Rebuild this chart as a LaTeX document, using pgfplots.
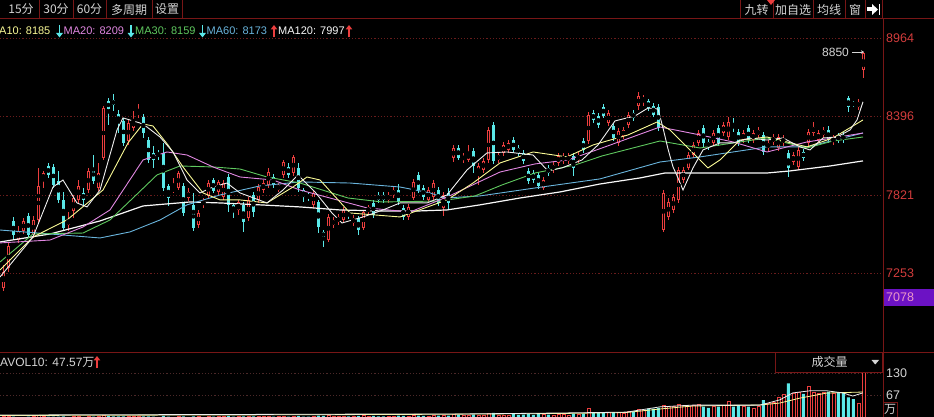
\documentclass[border=0pt]{standalone}
\usepackage{pgfplots}
\pgfplotsset{compat=1.18}
\usepackage{pgfplotstable}
\usepackage{fontspec}
\setmainfont{Liberation Sans}
\newfontfamily\cjk{Noto Sans CJK SC}
\usetikzlibrary{arrows.meta}

\definecolor{cup}{RGB}{235,62,62}
\definecolor{cdn}{RGB}{90,232,232}
\definecolor{ma5}{RGB}{238,238,238}
\definecolor{ma10}{RGB}{250,250,150}
\definecolor{ma20}{RGB}{225,135,225}
\definecolor{ma30}{RGB}{95,200,95}
\definecolor{ma60}{RGB}{105,180,220}
\definecolor{ma120}{RGB}{248,248,248}
\definecolor{lbl}{RGB}{210,60,60}
\definecolor{frame}{RGB}{120,22,22}
\definecolor{gridred}{RGB}{105,28,28}
\definecolor{volgrid}{RGB}{75,40,40}
\definecolor{txt}{RGB}{212,212,212}
\definecolor{purp}{RGB}{108,18,196}
\definecolor{pinktxt}{RGB}{235,150,200}

\newcommand{\fs}[1]{\fontsize{#1}{#1}\selectfont}

% rising candles (red, hollow): index, open, high, low, close, volume (10k)
\pgfplotstableread{
i o h l c v
0 7144 7311 7122 7260 6
1 7290 7479 7260 7450 7
3 7493 7595 7472 7559 4
4 7559 7654 7537 7632 4
6 7530 7668 7508 7639 5
7 7639 8018 7610 7887 9
8 7930 7996 7872 7981 6
13 7603 7697 7559 7639 4
14 7705 7821 7654 7799 5
15 7785 7930 7763 7887 5
17 7857 8018 7836 7996 5
19 7872 8054 7850 7981 5
20 8090 8469 8076 8454 10
25 8214 8367 8185 8345 5
26 8309 8433 8287 8367 5
27 8403 8484 8382 8433 5
34 7850 7945 7836 7872 4
35 7872 7996 7857 7981 5
37 7799 7872 7777 7843 4
39 7603 7712 7581 7690 5
40 7749 7799 7727 7777 4
41 7814 7930 7799 7908 5
43 7843 7930 7821 7916 5
44 7806 7930 7785 7908 5
47 7712 7785 7675 7770 5
49 7654 7806 7632 7785 6
51 7785 7901 7763 7879 6
52 7857 7930 7836 7908 5
53 7894 8018 7872 7988 6
55 7857 7908 7843 7894 5
56 7967 8076 7945 8061 6
58 7981 8112 7959 8098 7
62 7749 7857 7727 7836 6
65 7493 7683 7479 7661 9
66 7603 7661 7581 7639 6
67 7624 7683 7603 7661 6
68 7639 7734 7617 7712 7
70 7617 7675 7595 7654 6
72 7581 7712 7566 7697 8
73 7697 7749 7675 7734 7
77 7785 7843 7763 7821 6
78 7821 7879 7799 7857 7
81 7661 7756 7639 7734 7
82 7799 7938 7785 7916 9
85 7785 7879 7763 7857 7
86 7806 7930 7785 7908 8
88 7727 7843 7668 7821 9
90 8090 8185 8061 8163 12
92 8076 8127 8054 8105 9
93 8076 8185 8061 8127 9
95 7967 8054 7894 8032 10
96 8003 8090 7981 8069 10
97 8076 8316 8054 8294 16
99 8076 8134 8054 8112 10
100 8127 8207 8105 8185 10
101 8149 8221 8127 8200 10
108 7872 7952 7857 7930 11
110 8003 8061 7981 8039 10
111 8054 8127 8032 8105 11
112 8069 8127 8047 8105 11
113 8069 8127 8047 8105 10
115 8076 8134 8054 8112 12
117 8214 8425 8192 8403 30
121 8345 8440 8323 8418 18
123 8200 8309 8178 8287 17
124 8250 8316 8229 8294 16
125 8331 8425 8309 8403 20
127 8469 8571 8440 8542 25
128 8505 8549 8469 8527 22
132 7566 7857 7552 7836 38
133 7661 7799 7639 7770 36
134 7712 7828 7690 7806 36
135 7785 8025 7763 8003 40
136 7930 8025 7908 8003 38
137 8018 8134 8003 8112 36
138 8112 8207 8090 8185 38
139 8200 8294 8178 8272 40
142 8200 8294 8178 8272 36
144 8272 8352 8250 8331 38
145 8243 8389 8221 8352 50
148 8221 8294 8200 8272 34
150 8221 8294 8200 8272 30
151 8258 8316 8236 8294 34
153 8163 8221 8141 8200 42
154 8207 8265 8185 8243 45
155 8163 8265 8141 8243 60
156 8200 8258 8178 8236 68
158 8061 8134 8039 8112 72
159 8025 8171 8003 8149 75
161 8200 8302 8178 8280 93
162 8272 8352 8250 8316 75
163 8221 8294 8200 8272 72
164 8258 8316 8236 8294 74
166 8207 8258 8185 8236 72
171 8462 8520 8440 8498 42
172 8731 8862 8673 8855 132
}\upT

% falling candles (cyan, filled)
\pgfplotstableread{
i o h l c v
2 7632 7661 7493 7530 5
5 7668 7690 7508 7530 5
9 8032 8054 7945 7967 5
10 8025 8047 7872 7894 5
11 7923 7996 7763 7785 5
12 7785 7843 7566 7581 6
16 7836 7872 7749 7785 4
18 8018 8112 7901 7923 5
21 8505 8527 8331 8447 7
22 8513 8556 8433 8476 6
23 8411 8440 8272 8345 6
24 8360 8382 8178 8200 6
28 8389 8411 8236 8272 6
29 8221 8243 8054 8076 6
30 8127 8178 8018 8076 5
31 8127 8149 8076 8105 4
32 8127 8200 7850 7872 7
33 7887 7901 7741 7799 5
36 7887 7908 7668 7690 6
38 7749 7836 7559 7581 6
42 7930 7945 7836 7850 5
45 7952 7974 7697 7749 7
46 7749 7763 7654 7697 5
48 7749 7770 7552 7624 6
50 7821 7843 7661 7697 6
54 7952 7974 7872 7894 5
57 8025 8054 7945 7967 5
59 8018 8054 7843 7872 7
60 7857 7872 7770 7806 5
61 7821 7843 7777 7799 5
63 7770 7785 7544 7588 8
64 7552 7566 7442 7515 7
69 7697 7712 7646 7668 6
71 7654 7668 7530 7566 7
74 7763 7785 7654 7675 7
75 7821 7843 7763 7785 6
76 7821 7843 7763 7785 6
79 7857 7901 7749 7770 8
80 7727 7749 7639 7661 7
83 7967 7988 7836 7857 8
84 7872 7894 7785 7806 7
87 7857 7879 7741 7763 8
89 7836 7872 7712 7763 8
91 8163 8185 8076 8090 10
94 8141 8163 7981 8032 11
98 8331 8352 8047 8069 16
102 8221 8243 8127 8149 12
103 8163 8185 8105 8127 10
104 8127 8149 8047 8069 11
105 7996 8018 7901 7923 12
106 7981 8003 7908 7930 10
107 7967 7988 7865 7887 12
109 8018 8039 7959 7981 11
114 8105 8127 7959 8018 14
116 8214 8236 8127 8149 14
118 8418 8440 8345 8367 17
119 8396 8418 8309 8331 17
120 8462 8484 8382 8396 18
122 8323 8345 8214 8236 18
126 8418 8440 8360 8382 20
129 8505 8520 8433 8454 28
130 8469 8491 8389 8403 28
131 8462 8484 8287 8309 30
140 8309 8331 8163 8200 34
141 8207 8229 8149 8171 30
143 8309 8331 8178 8200 34
146 8331 8382 8280 8309 34
147 8280 8302 8178 8200 38
149 8309 8331 8200 8221 34
152 8258 8280 8112 8134 52
157 8127 8149 7952 8018 100
160 8134 8156 8069 8090 70
165 8294 8323 8200 8221 76
167 8250 8272 8200 8221 75
168 8258 8280 8200 8221 74
169 8527 8542 8425 8462 60
170 8491 8505 8462 8476 55
}\dnT

\begin{document}
\begin{tikzpicture}
\path[use as bounding box] (0,0) rectangle (934pt,417pt);
\clip (0,0) rectangle (934pt,417pt);
\fill[black] (0,0) rectangle (934pt,417pt);

% ---------------- price panel ----------------
\begin{axis}[at={(0pt,65pt)}, anchor=south west, scale only axis,
  width=883pt, height=333pt,
  xmin=-0.66, xmax=175.94, ymin=6678, ymax=9102,
  axis line style={draw=none}, xtick=\empty,
  ytick={7253,7821,8396,8964}, yticklabels={7253,7821,8396,8964},
  yticklabel pos=right, major tick length=0pt,
  yticklabel style={text=lbl, font=\fs{12.5}, inner sep=0pt, anchor=west, xshift=3pt},
  ymajorgrids, grid style={gridred, dash pattern=on 1.2pt off 2pt, line width=0.7pt},
  clip=true]
% wicks
\addplot[only marks, mark=none, error bars/.cd, y dir=both, y explicit, error mark=none,
  error bar style={cup, line width=0.9pt}]
  table[x=i, y expr=(\thisrow{h}+\thisrow{l})/2, y error expr=(\thisrow{h}-\thisrow{l})/2] {\upT};
\addplot[only marks, mark=none, error bars/.cd, y dir=both, y explicit, error mark=none,
  error bar style={cdn, line width=0.9pt}]
  table[x=i, y expr=(\thisrow{h}+\thisrow{l})/2, y error expr=(\thisrow{h}-\thisrow{l})/2] {\dnT};
% bodies
\addplot[only marks, mark=none, error bars/.cd, y dir=both, y explicit, error mark=none,
  error bar style={cup, line width=3.5pt}]
  table[x=i, y expr=(\thisrow{o}+\thisrow{c})/2, y error expr={max((\thisrow{c}-\thisrow{o})/2,4)}] {\upT};
\addplot[only marks, mark=none, error bars/.cd, y dir=both, y explicit, error mark=none,
  error bar style={black, line width=1.3pt}]
  table[x=i, y expr=(\thisrow{o}+\thisrow{c})/2, y error expr={max((\thisrow{c}-\thisrow{o})/2-7.3,0)}] {\upT};
\addplot[only marks, mark=none, error bars/.cd, y dir=both, y explicit, error mark=none,
  error bar style={cdn, line width=3.5pt}]
  table[x=i, y expr=(\thisrow{o}+\thisrow{c})/2, y error expr={max((\thisrow{o}-\thisrow{c})/2,4)}] {\dnT};
% moving averages
\addplot[ma120, line width=1.2pt] coordinates {(-0.66,7479) (9.34,7537) (19.34,7632) (23.94,7690) (27.94,7741) (32.74,7756) (37.34,7770) (43.34,7763) (51.34,7749) (59.34,7734) (67.34,7712) (75.34,7705) (83.34,7705) (88.74,7712) (95.34,7749) (103.34,7799) (111.34,7843) (119.34,7901) (127.34,7945) (132.34,7981) (139.34,7981) (152.74,7981) (157.34,7996) (165.34,8032) (171.94,8069)};
\addplot[ma60, line width=0.9pt] coordinates {(-0.66,7566) (9.34,7537) (19.34,7508) (25.34,7552) (31.34,7639) (36.74,7749) (43.34,7821) (51.34,7887) (59.34,7916) (69.34,7908) (79.34,7879) (85.34,7836) (88.34,7799) (95.34,7814) (106.34,7872) (119.34,7938) (131.34,8061) (139.34,8098) (152.74,8171) (160.74,8171) (171.94,8272)};
\addplot[ma30, line width=0.9pt] coordinates {(-0.66,7333) (5.94,7537) (15.94,7544) (21.34,7639) (25.94,7799) (30.74,7967) (35.34,8032) (41.94,8025) (47.34,8010) (52.74,7952) (59.34,7908) (68.94,7799) (75.74,7770) (87.34,7777) (94.34,7814) (99.74,7894) (106.34,7981) (114.34,8039) (119.74,8105) (131.34,8214) (139.34,8163) (147.34,8207) (152.74,8236) (160.74,8163) (165.94,8214) (171.94,8243)};
\addplot[ma20, line width=0.9pt] coordinates {(-0.66,7472) (9.34,7493) (15.94,7588) (21.34,7712) (27.94,8076) (32.74,8134) (36.74,8112) (41.94,8025) (47.34,7952) (53.94,7930) (59.34,7857) (72.74,7727) (81.34,7697) (88.74,7806) (99.34,7988) (106.34,8047) (112.94,8076) (119.74,8163) (131.34,8316) (139.34,8258) (145.94,8207) (152.74,8134) (160.74,8207) (165.94,8236) (171.94,8272)};
\addplot[ma10, line width=0.9pt] coordinates {(-0.66,7275) (5.94,7515) (12.74,7639) (19.94,7857) (24.94,8200) (27.94,8338) (29.94,8323) (32.94,8185) (35.94,8025) (39.94,7836) (43.34,7785) (47.34,7785) (52.74,7763) (57.94,7879) (60.74,7952) (63.34,7930) (69.34,7690) (79.34,7661) (88.74,7785) (93.94,7908) (99.34,8054) (105.94,8134) (112.74,8098) (117.94,8185) (124.94,8258) (130.74,8352) (133.34,8294) (137.34,8149) (140.94,8018) (143.34,8076) (147.34,8221) (152.74,8243) (160.74,8171) (165.94,8236) (171.94,8367)};
\addplot[ma5, line width=0.9pt] coordinates {(-0.66,7224) (5.94,7515) (9.94,7879) (11.94,7930) (14.74,7763) (16.74,7734) (19.34,7857) (22.74,8294) (23.94,8382) (27.34,8345) (28.74,8316) (31.34,8243) (33.94,8134) (36.74,7930) (39.34,7836) (41.94,7879) (44.74,7908) (47.34,7836) (52.74,7763) (55.94,7857) (58.94,7967) (62.34,7843) (65.74,7690) (67.74,7617) (71.94,7661) (75.94,7712) (79.34,7763) (84.74,7763) (88.74,7821) (92.74,8003) (96.74,8127) (100.74,8134) (105.94,8112) (108.94,7996) (111.74,8018) (115.74,8076) (118.94,8185) (122.34,8360) (126.34,8396) (128.94,8454) (130.94,8447) (131.94,8309) (132.94,8156) (133.94,8025) (134.94,7945) (135.94,7857) (136.94,7938) (137.94,8018) (139.94,8149) (143.34,8200) (145.94,8200) (149.34,8236) (152.74,8221) (155.94,8236) (159.34,8171) (161.34,8149) (163.94,8236) (166.74,8243) (169.34,8294) (170.74,8367) (171.94,8499)};
\end{axis}

% ---------------- volume panel ----------------
\begin{axis}[at={(0pt,-1.4pt)}, anchor=south west, scale only axis,
  width=883pt, height=66.4pt,
  xmin=-0.66, xmax=175.94, ymin=0, ymax=190.1,
  axis line style={draw=none}, xtick=\empty,
  ytick={67,130}, yticklabels={67,130},
  yticklabel pos=right, major tick length=0pt,
  yticklabel style={text=txt, font=\fs{12.5}, inner sep=0pt, anchor=west, xshift=3pt},
  ymajorgrids, grid style={volgrid, dash pattern=on 1.2pt off 2pt, line width=0.7pt},
  clip=true]
\addplot[ybar, bar width=3pt, bar shift=0pt, draw=cup, fill=black, line width=0.6pt] table[x=i, y=v] {\upT};
\addplot[ybar, bar width=3pt, bar shift=0pt, draw=none, fill=cdn] table[x=i, y=v] {\dnT};
\addplot[ma10, line width=0.8pt] coordinates {(-0.66,8.3) (79.3,11.2) (111.3,14) (124.7,16.9) (131.3,26.9) (137.9,35.5) (151.3,38.3) (155.3,44) (159.3,58) (164.7,72.6) (171.9,75.5)};
\addplot[ma5, line width=0.8pt] coordinates {(-0.66,9.7) (39.3,11) (79.3,12.6) (91.3,12.6) (111.3,15.4) (124.7,18) (131.3,33) (137.9,38) (144.7,38) (151.3,38) (155.3,53) (157.9,73) (161.3,79) (164.7,79) (167.9,73) (169.9,64) (171.9,73)};
\end{axis}

% ---------------- chrome, labels ----------------
\begin{scope}[x=1pt, y=-1pt, shift={(0pt,417pt)}]
% frame lines
\draw[frame, line width=0.8pt] (0,18.5) -- (934,18.5);
\draw[frame, line width=0.8pt] (883,18.5) -- (883,417);
\draw[frame, line width=0.8pt] (0,352) -- (934,352);
% top-left buttons
\foreach \xx in {39,73,106,152,182} {\draw[frame, line width=0.8pt] (\xx,0) -- (\xx,18.5);}
\node[text=txt, font=\cjk\fs{12}, inner sep=0] at (21,9.5) {15分};
\node[text=txt, font=\cjk\fs{12}, inner sep=0] at (56,9.5) {30分};
\node[text=txt, font=\cjk\fs{12}, inner sep=0] at (89.5,9.5) {60分};
\node[text=txt, font=\cjk\fs{12}, inner sep=0] at (129,9.5) {多周期};
\node[text=txt, font=\cjk\fs{12}, inner sep=0] at (167,9.5) {设置};
% top-right buttons
\foreach \xx in {740,773,813,845,865,882} {\draw[frame, line width=0.8pt] (\xx,0) -- (\xx,18.5);}
\node[text=txt, font=\cjk\fs{12}, inner sep=0] at (756.5,9.5) {九转};
\node[text=txt, font=\cjk\fs{12}, inner sep=0] at (793,9.5) {加自选};
\node[text=txt, font=\cjk\fs{12}, inner sep=0] at (829,9.5) {均线};
\node[text=txt, font=\cjk\fs{12}, inner sep=0] at (855,9.5) {窗};
\fill[cup] (767,0) -- (775,0) -- (771,5) -- cycle;
\fill[white] (867,7.5) rectangle (872.5,11.5);
\fill[white] (872,4) -- (878,9.5) -- (872,15) -- cycle;
\fill[white] (878.6,4) rectangle (880.2,15);
% MA legend
\tikzset{lgar/.style={line width=1.8pt, -{Triangle[length=4.5pt,width=6.5pt]}}}
\node[anchor=west, inner sep=0, text=ma10, font=\fs{11}] at (-1,31) {A10: 8185};
\draw[cdn, lgar] (59.5,25) -- (59.5,37.5);
\node[anchor=west, inner sep=0, text=ma20, font=\fs{11}] at (63.5,31) {MA20: 8209};
\draw[cdn, lgar] (131,25) -- (131,37.5);
\node[anchor=west, inner sep=0, text=ma30, font=\fs{11}] at (135,31) {MA30: 8159};
\draw[cdn, lgar] (202.5,25) -- (202.5,37.5);
\node[anchor=west, inner sep=0, text=ma60, font=\fs{11}] at (206.5,31) {MA60: 8173};
\draw[cup, lgar] (274,37.5) -- (274,25);
\node[anchor=west, inner sep=0, text=ma120, font=\fs{11}] at (278,31) {MA120: 7997};
\draw[cup, lgar] (349,37.5) -- (349,25);
% latest-high marker
\node[anchor=west, inner sep=0, text=txt, font=\fs{12}] at (822,52) {8850};
\draw[txt, line width=0.8pt, -{Stealth[length=3pt,width=3.5pt]}] (852,52) -- (864,52);
% current price box
\fill[purp] (883.5,289) rectangle (934,306);
\node[anchor=west, inner sep=0, text=pinktxt, font=\fs{12.5}] at (886,297.5) {7078};
% volume panel header
\node[anchor=west, inner sep=0, text=txt, font=\fs{12}] at (0,362.5) {AVOL10: 47.57{\cjk 万}};
\draw[cup, lgar] (97,368.5) -- (97,356);
\filldraw[draw=frame, fill=black, line width=0.8pt] (775.5,352) rectangle (882.5,372.5);
\node[text=txt, font=\cjk\fs{12}, inner sep=0] at (829.5,362) {成交量};
\fill[txt] (871.5,360) -- (879,360) -- (875.25,364.5) -- cycle;
\draw[frame, line width=0.8pt] (883,402) rectangle (897,417);
\node[text=txt, font=\cjk\fs{12}, inner sep=0] at (890,409.5) {万};
\end{scope}
\end{tikzpicture}
\end{document}
